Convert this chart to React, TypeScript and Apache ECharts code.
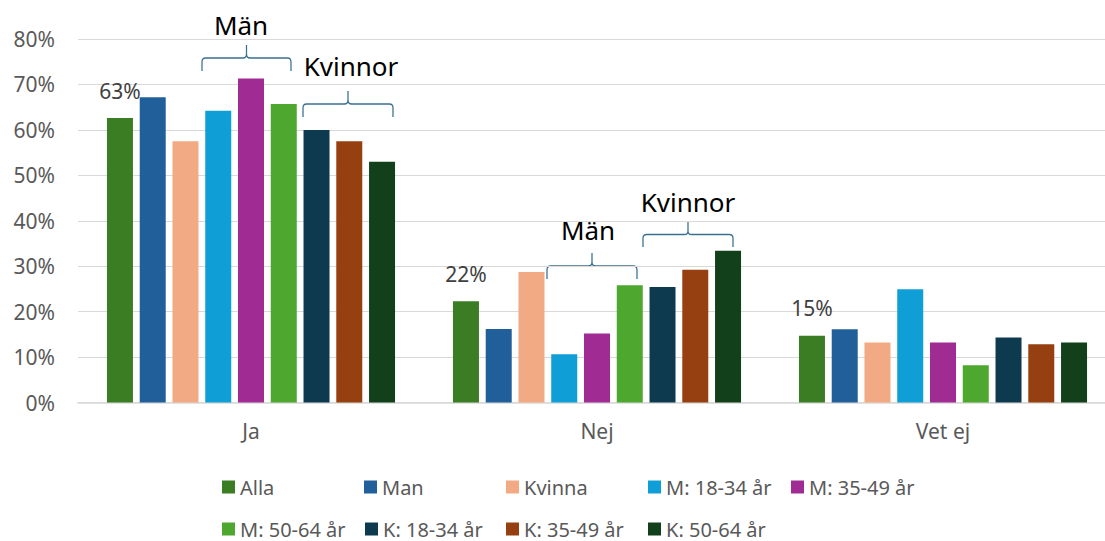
import React, { useEffect, useRef } from "react";
import * as echarts from "echarts";

const categories = ["Ja", "Nej", "Vet ej"];
const seriesNames = [
  "Alla",
  "Man",
  "Kvinna",
  "M: 18-34 år",
  "M: 35-49 år",
  "M: 50-64 år",
  "K: 18-34 år",
  "K: 35-49 år",
  "K: 50-64 år",
];
const alla = [62.6, 22.3, 14.7];
const man = [67.2, 16.2, 16.1];
const kvinna = [57.5, 28.7, 13.2];
const m1834 = [64.2, 10.6, 24.9];
const m3549 = [71.3, 15.2, 13.2];
const m5064 = [65.7, 25.8, 8.2];
const k1834 = [60.0, 25.4, 14.3];
const k3549 = [57.5, 29.2, 12.8];
const k5064 = [53.0, 33.4, 13.2];
const seriesValues = [alla, man, kvinna, m1834, m3549, m5064, k1834, k3549, k5064];
const seriesColors = [
  "#3b7d23",
  "#215f9a",
  "#f2aa84",
  "#0f9ed5",
  "#a02b93",
  "#4ea72e",
  "#0e3a50",
  "#964012",
  "#12401a",
];
const yMin = 0;
const yMax = 80;
const yStep = 10;

const groupLabelMen = "Män";
const groupLabelWomen = "Kvinnor";

const FONT = "'Noto Sans', 'DejaVu Sans', sans-serif";

// layout of legend items (marker left x, item top y)
const legendSlots: [number, number][] = [
  [222, 477],
  [364, 477],
  [506, 477],
  [648, 477],
  [791, 477],
  [222, 519],
  [365, 519],
  [506, 519],
  [648, 519],
];

// annotation layout: braces (x0, x1, yTip, yEnd) and texts (cx, cy)
const braces = [
  { x0: 202, x1: 291, yTip: 45, yEnd: 71 },
  { x0: 303, x1: 393, yTip: 91, yEnd: 117 },
  { x0: 547, x1: 637, yTip: 253, yEnd: 279 },
  { x0: 643, x1: 733, yTip: 222, yEnd: 247 },
];
const annotationTexts = [
  { text: groupLabelMen, cx: 241, cy: 25 },
  { text: groupLabelWomen, cx: 351, cy: 66 },
  { text: groupLabelMen, cx: 588, cy: 230 },
  { text: groupLabelWomen, cx: 688, cy: 202 },
];

const BRACE_W = 100;
const BRACE_H = 26;
const bracePath =
  "M0 26 L0 17 Q0 13 4 13 L46 13 Q50 13 50 9 L50 0 M50 9 Q50 13 54 13 L96 13 Q100 13 100 17 L100 26";

let registered = false;
function ensureShape() {
  if (registered) return;
  echarts.graphic.registerShape("brace", echarts.graphic.extendPath(bracePath, {}));
  registered = true;
}

export default function App() {
  const ref = useRef<HTMLDivElement>(null);

  useEffect(() => {
    if (!ref.current) return;
    ensureShape();
    const chart = echarts.init(ref.current, undefined, { renderer: "svg" });

    const series = seriesNames.map((name, i) => ({
      name,
      type: "bar",
      data: seriesValues[i],
      barWidth: 26,
      barGap: "26%",
      itemStyle: { color: seriesColors[i] },
      label:
        i === 0
          ? {
              show: true,
              position: "top",
              distance: 17,
              formatter: (p: any) => Math.round(p.value) + "%",
              fontSize: 21,
              color: "#404040",
              fontFamily: FONT,
            }
          : { show: false },
    }));

    const legends = seriesNames.map((name, i) => ({
      data: [name],
      left: legendSlots[i][0],
      top: legendSlots[i][1],
      padding: 0,
      itemWidth: 13,
      itemHeight: 13,
      itemGap: 0,
      icon: "rect",
      selectedMode: false,
      textStyle: { fontSize: 20, color: "#595959", fontFamily: FONT, lineHeight: 20 },
    }));

    const graphics: any[] = [];
    braces.forEach((b) => {
      graphics.push({
        type: "brace",
        x: b.x0,
        y: b.yTip,
        scaleX: (b.x1 - b.x0) / BRACE_W,
        scaleY: (b.yEnd - b.yTip) / BRACE_H,
        silent: true,
        style: { fill: "none", stroke: "#3a6f8f", lineWidth: 1.4 },
      });
    });
    annotationTexts.forEach((t) => {
      graphics.push({
        type: "text",
        x: t.cx,
        y: t.cy,
        silent: true,
        style: {
          text: t.text,
          fontSize: 26,
          fontFamily: FONT,
          fill: "#000000",
          align: "center",
          verticalAlign: "middle",
          textAlign: "center",
          textVerticalAlign: "middle",
        },
      });
    });

    chart.setOption({
      animation: false,
      backgroundColor: "#ffffff",
      textStyle: { fontFamily: FONT },
      grid: {
        left: 78,
        right: -11,
        top: 39,
        bottom: 138.5,
        containLabel: false,
        outerBoundsMode: "none",
      },
      legend: legends,
      xAxis: {
        type: "category",
        data: categories,
        axisTick: { show: false },
        axisLine: { show: true, lineStyle: { color: "#d9d9d9", width: 1.5 } },
        axisLabel: { fontSize: 21, color: "#595959", margin: 18, fontFamily: FONT },
      },
      yAxis: {
        type: "value",
        min: yMin,
        max: yMax,
        interval: yStep,
        axisLine: { show: false },
        axisTick: { show: false },
        axisLabel: {
          formatter: "{value}%",
          fontSize: 21,
          color: "#595959",
          margin: 23,
          fontFamily: FONT,
        },
        splitLine: { lineStyle: { color: "#d9d9d9", width: 1 } },
      },
      series,
      graphic: graphics,
    });

    return () => chart.dispose();
  }, []);

  return (
    <div
      ref={ref}
      style={{ position: "fixed", left: 0, top: 0, width: 1105, height: 541, background: "#fff" }}
    />
  );
}
